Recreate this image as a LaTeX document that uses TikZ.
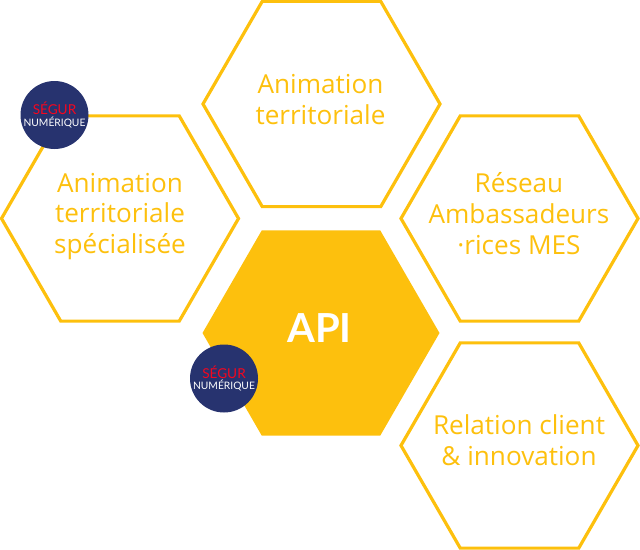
\documentclass[tikz,border=0pt]{standalone}
\usepackage{fontspec}
\setmainfont{Open Sans}
\definecolor{hexy}{HTML}{FDC00D}
\definecolor{segblue}{HTML}{27336F}
\definecolor{segred}{HTML}{F5061E}
\newfontfamily\segfont{Lato}
\newcommand{\segtext}{{\fontsize{10.2}{9.5}\selectfont\textcolor{segred}{SÉGUR}}\\[0.6pt]\textcolor{white}{NUMÉRIQUE}}
\tikzset{
  hexline/.style={draw=hexy,line width=2.4pt,line join=miter},
  hexfill/.style={fill=hexy},
  hextext/.style={text=hexy,align=center,font=\fontsize{19.6}{23.2}\selectfont},
  badge/.style={circle,fill=segblue,minimum size=51pt,inner sep=0pt,align=center,
    font=\fontsize{7.7}{8.2}\segfont}
}
\newcommand{\hexat}[3]{(#1-#3,#2) -- (#1-#3/2,#2+0.866*#3) -- (#1+#3/2,#2+0.866*#3) -- (#1+#3,#2) -- (#1+#3/2,#2-0.866*#3) -- (#1-#3/2,#2-0.866*#3) -- cycle}
\begin{document}
\begin{tikzpicture}[x=0.75pt,y=-0.75pt]
\useasboundingbox (0,0) rectangle (640,550);
\draw[hexline] \hexat{321.5}{104}{118.5};
\draw[hexline] \hexat{120}{218.5}{118.5};
\draw[hexline] \hexat{519.5}{218.5}{118.5};
\draw[hexline] \hexat{519.5}{445.5}{118.5};
\fill[hexfill] \hexat{321}{333}{118.5};
\node[hextext] (top) at (320.5,99.5) {Animation\\territoriale};
\node[hextext] (left) at (120,216.5) {Animation\\territoriale\\spécialisée};
\node[hextext] (right) at (519,214) {Réseau\\Ambassadeurs\\·rices MES};
\node[hextext] (rel) at (519,440.5) {Relation client\\\& innovation};
\node[text=white,font=\fontsize{30}{36}\selectfont\segfont\bfseries] (api) at (319.5,328) {API};
\node[badge] (b1) at (54.5,115) {\segtext};
\node[badge] (b2) at (224,378.5) {\segtext};
\end{tikzpicture}
\end{document}
